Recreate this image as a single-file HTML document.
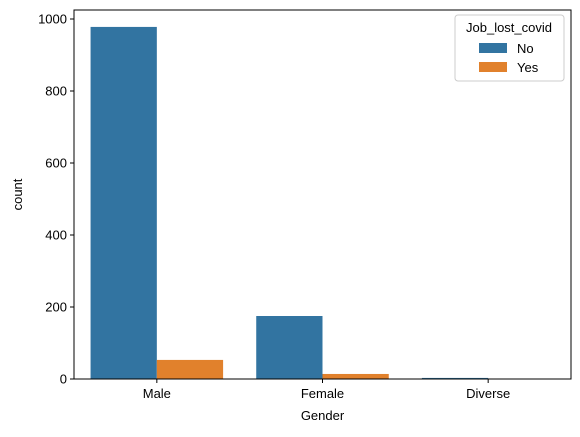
<!DOCTYPE html>
<html><head><meta charset="utf-8"><style>
body{margin:0;background:#fff;width:580px;height:432px;overflow:hidden}
text{font-family:"Liberation Sans","DejaVu Sans",sans-serif;fill:#000}
</style></head><body>
<svg id="chart" width="580" height="432"></svg>
<script>
const categories=["Male","Female","Diverse"];
const seriesNames=["No","Yes"];
const noValues=[978,175,3];
const yesValues=[53,14,0];
const yTicks=[0,200,400,600,800,1000];
const colors=["#3274a1","#e1812c"];
const L=74,R=571,T=10,B=379;
const ns="http://www.w3.org/2000/svg";
const svg=document.getElementById('chart');
function y(v){return B-v*0.36;}
function x(i){return L+(i+0.5)*(R-L)/categories.length;}
const unit=(R-L)/categories.length;
function mk(tag,attrs,parent){const e=document.createElementNS(ns,tag);for(const k in attrs)e.setAttribute(k,attrs[k]);(parent||svg).appendChild(e);return e;}
const series=[noValues,yesValues];
series.forEach((vals,s)=>{vals.forEach((v,i)=>{
 const bx=x(i)-0.4*unit+s*0.4*unit;
 const r=mk('rect',{x:bx,y:y(v),width:0.4*unit,height:B-y(v),fill:colors[s]});
 
 
});});
const frame=mk('rect',{x:L,y:T,width:R-L,height:B-T,fill:'none',stroke:'#000','stroke-width':1});


yTicks.forEach(t=>{
 mk('line',{x1:L-4,x2:L,y1:y(t),y2:y(t),stroke:'#000'});
 const tx=mk('text',{x:L-7,y:y(t)+4.5,'text-anchor':'end','font-size':13});tx.textContent=t;
 
 
});
categories.forEach((c,i)=>{
 mk('line',{x1:x(i),x2:x(i),y1:B,y2:B+4,stroke:'#000'});
 const tx=mk('text',{x:x(i),y:B+19,'text-anchor':'middle','font-size':13});tx.textContent=c;
 
 
});
const xl=mk('text',{x:(L+R)/2,y:420,'text-anchor':'middle','font-size':13});xl.textContent='Gender';


const yl=mk('text',{x:22,y:(T+B)/2,'text-anchor':'middle','font-size':13,transform:`rotate(-90 22 ${(T+B)/2})`});yl.textContent='count';


const lg=mk('g',{});


mk('rect',{x:455,y:15,width:109,height:66,rx:3,fill:'#fff',stroke:'#ccc'},lg);
const lt=mk('text',{x:509,y:32,'text-anchor':'middle','font-size':13},lg);lt.textContent='Job_lost_covid';
seriesNames.forEach((n,s)=>{
 const g=mk('g',{},lg);
 
 
 mk('rect',{x:479,y:43+s*19,width:28,height:10,fill:colors[s]},g);
 const t=mk('text',{x:517,y:53+s*19,'font-size':13},g);t.textContent=n;
});
</script>
</body></html>
